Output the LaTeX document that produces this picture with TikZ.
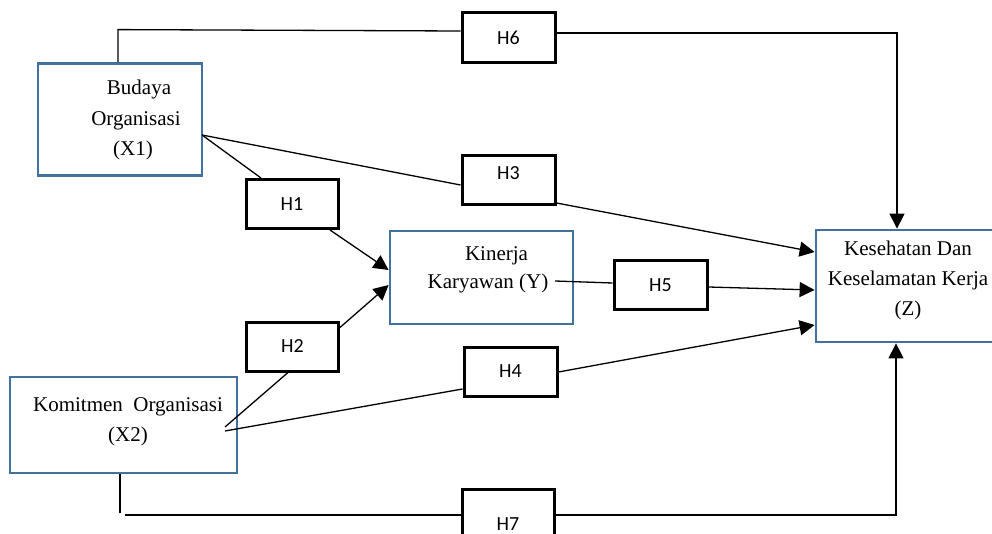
\documentclass[tikz,border=0pt]{standalone}
\usepackage{fontspec}
\setmainfont{Liberation Serif}
\newfontfamily\hfont{Carlito}
\usetikzlibrary{arrows.meta}
\definecolor{boxblue}{RGB}{65,113,156}
\begin{document}
\begin{tikzpicture}[x=1pt,y=-1pt,
  bluebox/.style={draw=boxblue,line width=2.8pt,inner sep=0pt},
  hbox/.style={draw=black,line width=3pt,minimum width=92pt,minimum height=49pt,inner sep=0pt,font=\hfont\fontsize{20}{22}\selectfont},
  htext/.style={inner sep=0pt,font=\hfont\fontsize{20}{22}\selectfont},
  vtext/.style={align=center,inner sep=0pt,font=\fontsize{21}{30.5}\selectfont},
  conn/.style={line width=1.3pt},
  arr/.style={line width=1.3pt,-{Triangle[length=15pt,width=15pt]}}]
\useasboundingbox (0,0) rectangle (992,534);
% variable boxes
\node[bluebox,minimum width=164pt,minimum height=112pt] (x1) at (120,119.5) {};
\node[vtext] (x1t) at (136,120) {\hspace*{6pt}Budaya\\Organisasi\\(X1)\hspace*{6pt}};
\node[bluebox,minimum width=183pt,minimum height=93pt] (ky) at (481.5,277.5) {};
\node[vtext,font=\fontsize{21}{28}\selectfont] (kyt) at (488,269.5) {\hspace*{17pt}Kinerja\\Karyawan (Y)};
\node[bluebox,minimum width=180pt,minimum height=112pt] (z) at (906,286) {};
\node[vtext,font=\fontsize{21}{30}\selectfont] (zt) at (908,280) {Kesehatan Dan\\Keselamatan Kerja\\(Z)};
\node[bluebox,minimum width=227pt,minimum height=96pt] (x2) at (123.5,425) {};
\node[vtext,font=\fontsize{21}{30}\selectfont] (x2t) at (128,422) {Komitmen~~Organisasi\\(X2)};
% hypothesis boxes
\node[hbox,minimum width=93pt,minimum height=50pt] (h6) at (508.5,38) {H6};
\node[hbox,minimum width=93pt] (h3) at (508.5,180.5) {};
\node[htext] (h3t) at (508.5,173) {H3};
\node[hbox] (h1) at (292,204) {H1};
\node[hbox] (h2) at (292.5,346.5) {H2};
\node[hbox,minimum width=93pt,minimum height=48pt] (h5) at (660.5,285) {H5};
\node[hbox,minimum width=93pt] (h4) at (510.5,371.5) {H4};
\node[hbox,minimum height=50pt] (h7) at (508,514) {};
\node[htext] (h7t) at (508,524) {H7};
% connection points
\coordinate (x1r) at (202,135);
\coordinate (x2a) at (225,427);
\coordinate (x2b) at (225,431);
\coordinate (kyend) at (555,281);
\coordinate (x2end) at (120,513);
\coordinate (h7start) at (125,515);
% H6
\draw[conn] ([xshift=-2pt]x1.north) -- ++(0,-32.5) -- ([yshift=7pt]h6.west);
\draw[arr] ([yshift=5pt]h6.east) -| ([xshift=-9pt]z.north);
% H1
\draw[conn] (x1r) -- ([xshift=-31pt]h1.north);
\draw[arr] ([xshift=38pt]h1.south) -- ([yshift=7.5pt]ky.west);
% H3
\draw[conn] (x1r) -- ([yshift=-4.5pt]h3.west);
\draw[arr] ([yshift=-22.5pt]h3.east) -- ([yshift=34pt]z.west);
% H2
\draw[conn] (x2a) -- ([xshift=-4.5pt]h2.south);
\draw[arr] ([yshift=19pt]h2.east) -- ([yshift=-7.5pt]ky.west);
% H4
\draw[conn] (x2b) -- ([yshift=-17.5pt]h4.west);
\draw[arr] ([yshift=-0.5pt]h4.east) -- ([yshift=-39pt]z.west);
% H5
\draw[conn] (kyend) -- ([yshift=2pt]h5.west);
\draw[arr] ([yshift=-2pt]h5.east) -- ([yshift=-4pt]z.west);
% H7
\draw[conn] ([xshift=-3.5pt]x2.south) -- (x2end);
\draw[conn] (h7start) -- ([yshift=-1pt]h7.west);
\draw[arr] ([yshift=-1pt]h7.east) -| ([xshift=-10pt]z.south);
\end{tikzpicture}
\end{document}
